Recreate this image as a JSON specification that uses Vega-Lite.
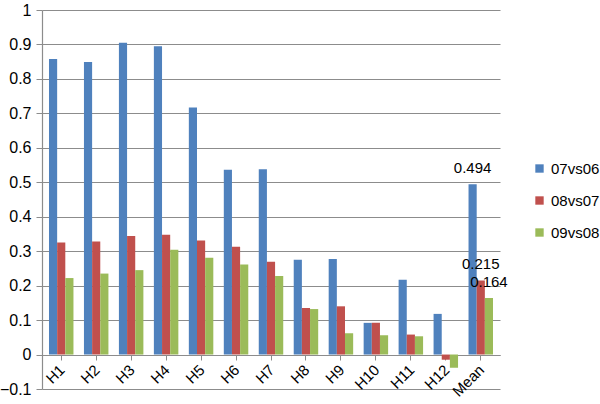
{
  "$schema": "https://vega.github.io/schema/vega-lite/v6.json",
  "width": 458,
  "height": 379,
  "autosize": {"type": "none"},
  "padding": {"left": 42, "top": 10, "right": 100, "bottom": 15},
  "background": "white",
  "config": {
    "font": "Liberation Sans",
    "view": {"stroke": null},
    "axis": {"labelFont": "Liberation Sans", "labelColor": "black"}
  },
  "data": {
    "values": [
      {"cat": "H1", "series": "07vs06", "v": 0.858},
      {"cat": "H1", "series": "08vs07", "v": 0.325},
      {"cat": "H1", "series": "09vs08", "v": 0.222},
      {"cat": "H2", "series": "07vs06", "v": 0.849},
      {"cat": "H2", "series": "08vs07", "v": 0.328},
      {"cat": "H2", "series": "09vs08", "v": 0.235},
      {"cat": "H3", "series": "07vs06", "v": 0.905},
      {"cat": "H3", "series": "08vs07", "v": 0.344},
      {"cat": "H3", "series": "09vs08", "v": 0.245},
      {"cat": "H4", "series": "07vs06", "v": 0.895},
      {"cat": "H4", "series": "08vs07", "v": 0.348},
      {"cat": "H4", "series": "09vs08", "v": 0.304},
      {"cat": "H5", "series": "07vs06", "v": 0.717},
      {"cat": "H5", "series": "08vs07", "v": 0.331},
      {"cat": "H5", "series": "09vs08", "v": 0.281},
      {"cat": "H6", "series": "07vs06", "v": 0.536},
      {"cat": "H6", "series": "08vs07", "v": 0.313},
      {"cat": "H6", "series": "09vs08", "v": 0.261},
      {"cat": "H7", "series": "07vs06", "v": 0.538},
      {"cat": "H7", "series": "08vs07", "v": 0.269},
      {"cat": "H7", "series": "09vs08", "v": 0.228},
      {"cat": "H8", "series": "07vs06", "v": 0.275},
      {"cat": "H8", "series": "08vs07", "v": 0.135},
      {"cat": "H8", "series": "09vs08", "v": 0.132},
      {"cat": "H9", "series": "07vs06", "v": 0.277},
      {"cat": "H9", "series": "08vs07", "v": 0.14},
      {"cat": "H9", "series": "09vs08", "v": 0.062},
      {"cat": "H10", "series": "07vs06", "v": 0.092},
      {"cat": "H10", "series": "08vs07", "v": 0.092},
      {"cat": "H10", "series": "09vs08", "v": 0.056},
      {"cat": "H11", "series": "07vs06", "v": 0.217},
      {"cat": "H11", "series": "08vs07", "v": 0.058},
      {"cat": "H11", "series": "09vs08", "v": 0.053},
      {"cat": "H12", "series": "07vs06", "v": 0.118},
      {"cat": "H12", "series": "08vs07", "v": -0.015},
      {"cat": "H12", "series": "09vs08", "v": -0.038},
      {"cat": "Mean", "series": "07vs06", "v": 0.494},
      {"cat": "Mean", "series": "08vs07", "v": 0.215},
      {"cat": "Mean", "series": "09vs08", "v": 0.164}
    ]
  },
  "encoding": {
    "x": {
      "field": "cat",
      "type": "nominal",
      "sort": null,
      "scale": {"paddingInner": 0.3, "paddingOuter": 0.2},
      "axis": {
        "title": null,
        "offset": -34,
        "labelAngle": -45,
        "labelAlign": "right",
        "labelBaseline": "top",
        "labelFontSize": 15,
        "labelPadding": 2,
        "labelOffset": -4,
        "tickSize": 5,
        "tickColor": "#8c8c8c",
        "domainColor": "#8c8c8c",
        "domainWidth": 1.2,
        "grid": false
      }
    },
    "xOffset": {"field": "series", "type": "nominal", "sort": null},
    "y": {
      "field": "v",
      "type": "quantitative",
      "scale": {"domain": [-0.1, 1], "nice": false, "zero": false},
      "axis": {
        "title": null,
        "values": [-0.1, 0, 0.1, 0.2, 0.3, 0.4, 0.5, 0.6, 0.7, 0.8, 0.9, 1],
        "format": "~g",
        "labelFontSize": 16,
        "labelPadding": 5,
        "tickSize": 6,
        "tickColor": "#8c8c8c",
        "domainColor": "#8c8c8c",
        "domainWidth": 1.2,
        "grid": true,
        "gridColor": "#8c8c8c",
        "gridWidth": 1.2
      }
    }
  },
  "layer": [
    {
      "mark": {"type": "bar"},
      "encoding": {
        "color": {
          "field": "series",
          "type": "nominal",
          "sort": null,
          "scale": {"range": ["#4F81BD", "#C0504D", "#9BBB59"]},
          "legend": {
            "title": null,
            "orient": "none",
            "legendX": 490,
            "legendY": 151,
            "symbolType": "square",
            "symbolSize": 70,
            "symbolStrokeWidth": 0,
            "labelFontSize": 15,
            "labelFont": "Liberation Sans",
            "labelColor": "black",
            "rowPadding": 16
          }
        }
      }
    },
    {
      "transform": [{"filter": "datum.cat === 'Mean'"}],
      "mark": {"type": "text", "baseline": "bottom", "dy": -8, "fontSize": 15, "color": "black"},
      "encoding": {
        "text": {"field": "v", "type": "quantitative", "format": ".3f"}
      }
    }
  ]
}
